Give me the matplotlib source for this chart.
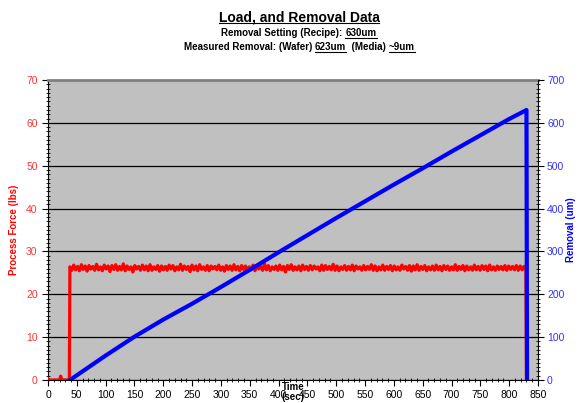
import numpy as np
import matplotlib
matplotlib.use('Agg')
import matplotlib.pyplot as plt
from matplotlib.ticker import MultipleLocator
from matplotlib.lines import Line2D

plt.rcParams['font.family'] = ['Liberation Sans', 'DejaVu Sans']

# data
lead_t = [0, 1, 3, 20, 22, 24, 36, 37]
lead_force = [0.3, 0.0, 0.0, 0.0, 0.9, 0.0, 0.0, 0.0]
force_noise = [
    26.4, 25.6, 26.8, 25.7, 26.5, 25.5, 26.9, 25.8, 26.6, 25.4, 26.7, 25.9,
    26.5, 25.6, 27.0, 25.7, 26.4, 25.5, 26.8, 25.9, 26.6, 25.3, 26.7, 25.8,
    26.9, 25.6, 26.5, 25.7, 27.1, 25.5, 26.6, 25.8, 26.4, 25.2, 26.7, 25.9,
    26.5, 25.6, 26.8, 25.7, 26.6, 25.5, 26.9, 25.6, 26.4, 25.8, 26.7, 25.4,
    26.6, 25.7, 26.5, 25.6, 26.8, 25.9, 26.7, 25.5, 26.4, 25.7, 27.0, 25.6,
    26.6, 25.8, 26.5, 25.3, 26.8, 25.7, 26.6, 25.5, 26.9, 25.8, 26.4, 25.6,
    26.7, 25.5, 26.6, 25.9, 26.5, 25.7, 26.8, 25.6, 26.4, 25.4, 26.7, 25.8,
    26.6, 25.6, 26.9, 25.7, 26.5, 25.5, 26.7, 25.8, 26.6, 25.6, 26.4, 25.7,
    26.8, 25.5, 26.6, 25.9, 26.5, 25.6, 27.1, 25.7, 26.7, 25.5, 26.4, 25.8,
    26.6, 25.6, 26.8, 25.7, 26.5, 25.2, 26.7, 25.8, 26.9, 25.6, 26.4, 25.7,
    26.6, 25.5, 26.8, 25.8, 26.5, 25.6, 26.7, 25.7, 26.6, 25.9, 26.4, 25.5,
    26.8, 25.6, 26.7, 25.8, 26.5, 25.7, 27.0, 25.6, 26.6, 25.5, 26.4, 25.8,
    26.7, 25.6, 26.5, 25.7, 26.8, 25.5, 26.6, 25.9, 26.4, 25.6, 26.7, 25.7,
    26.5, 25.8, 26.9, 25.6, 26.6, 25.5, 26.4, 25.7, 26.8, 25.6, 26.5, 25.8,
    26.7, 25.5, 26.6, 25.7, 26.4, 25.6, 26.8, 25.9, 26.5, 25.6, 26.7, 25.4,
    26.6, 25.7, 26.9, 25.6, 26.5, 25.8, 26.7, 25.5, 26.4, 25.7, 26.6, 25.6,
    26.8, 25.7, 26.5, 25.5, 26.7, 25.8, 26.6, 25.6, 26.4, 25.7, 26.9, 25.6,
    26.5, 25.8, 26.7, 25.5, 26.6, 25.7, 26.4, 25.6, 26.8, 25.7, 26.5, 25.6,
    26.7, 25.8, 26.6, 25.5, 26.8, 25.7, 26.4, 25.6, 26.6, 25.8, 26.5, 25.7,
    26.7, 25.6, 26.6, 25.8, 26.5, 25.7, 26.7, 25.6, 26.6, 25.7, 26.5, 25.8,
]
force_start, force_end = 38, 829
tail_t = [830]
tail_force = [0.0]

removal_t = [38, 50, 100, 150, 200, 250, 300, 350, 400, 450, 500,
             550, 600, 650, 700, 750, 800, 830, 831]
removal = [0, 11, 57, 101, 141, 178, 217, 257, 298, 338, 378,
           417, 456, 494, 533, 571, 609, 630, 0]

noise_t = np.linspace(force_start, force_end, len(force_noise))
force_t = np.concatenate([lead_t, noise_t, tail_t])
force = np.concatenate([lead_force, force_noise, tail_force])

red = '#FF0000'
blue = '#0000FF'
red_txt = '#FF3333'
blue_txt = '#3333FF'

fig = plt.figure(figsize=(5.78, 4.03), dpi=100)
ax = fig.add_axes([48 / 578, 1 - 380 / 403, 490 / 578, 300 / 403])
ax.set_facecolor('#C0C0C0')

ax.plot(force_t, force, color=red, lw=2.3, zorder=3)
ax.set_xlim(0, 850)
ax.set_ylim(0, 70)
ax.xaxis.set_major_locator(MultipleLocator(50))
ax.xaxis.set_minor_locator(MultipleLocator(10))
ax.yaxis.set_major_locator(MultipleLocator(10))
ax.yaxis.set_minor_locator(MultipleLocator(1))
ax.yaxis.grid(True, color='black', lw=0.9)
ax.set_axisbelow(True)
ax.tick_params(axis='both', which='major', direction='out', length=4, labelsize=7.5)
ax.tick_params(axis='both', which='minor', direction='inout', length=3)
ax.tick_params(axis='y', labelcolor=red_txt)
for s in ['left', 'bottom']:
    ax.spines[s].set_color('black')
ax.spines['top'].set_color('#808080')
ax.spines['top'].set_linewidth(2)
ax.spines['right'].set_visible(False)
ax.set_ylabel('Process Force (lbs)', color=red, fontsize=7, fontweight='bold', labelpad=5)
fig.text(293 / 578, 1 - 392 / 403, 'Time\n(sec)', fontsize=7, fontweight='bold',
         ha='center', va='center', linespacing=1.0)

ax2 = ax.twinx()
ax2.plot(removal_t, removal, color=blue, lw=3.0, zorder=4)
ax2.set_ylim(0, 700)
ax2.yaxis.set_major_locator(MultipleLocator(100))
ax2.yaxis.set_minor_locator(MultipleLocator(10))
ax2.tick_params(axis='y', which='major', direction='out', length=4, labelsize=7.5,
                labelcolor=blue_txt, pad=2.5)
ax2.tick_params(axis='y', which='minor', direction='inout', length=3)
for s in ['left', 'top', 'bottom']:
    ax2.spines[s].set_visible(False)
ax2.spines['right'].set_color('black')
ax2.set_ylabel('Removal (um)', color=blue, fontsize=7, fontweight='bold', labelpad=1)

# title block with underlined parts
renderer = fig.canvas.get_renderer()


def header(y_px, parts, size):
    texts = []
    for s, ul in parts:
        t = fig.text(0, 1 - y_px / 403, s, fontsize=size, fontweight='bold', va='baseline', ha='left')
        texts.append((t, ul))
    widths = [t.get_window_extent(renderer).width for t, _ in texts]
    x = 299 - sum(widths) / 2
    for (t, ul), w in zip(texts, widths):
        t.set_x(x / 578)
        if ul:
            yl = 1 - (y_px + 1.5) / 403
            fig.add_artist(Line2D([x / 578, (x + w) / 578], [yl, yl], color='black', lw=0.8))
        x += w


header(21, [('Load, and Removal Data', True)], 10)
header(36, [('Removal Setting (Recipe): ', False), ('630um', True)], 7)
header(50, [('Measured Removal: (Wafer) ', False), ('623um', True),
            ('  (Media) ', False), ('~9um', True)], 7)

fig.savefig('out.png', dpi=100)
